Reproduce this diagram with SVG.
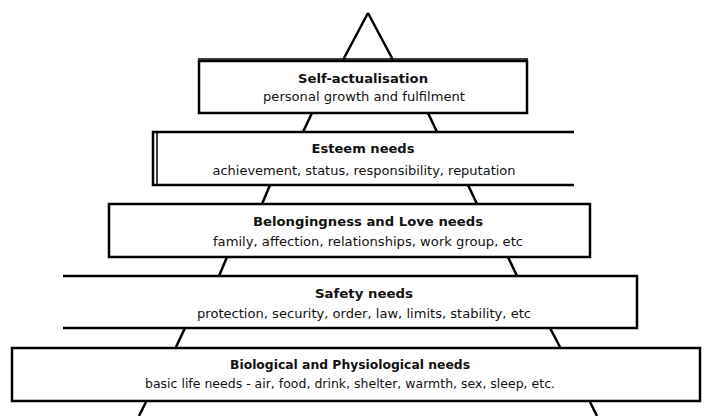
<svg xmlns="http://www.w3.org/2000/svg" width="707" height="416" viewBox="0 0 707 416">
<style>
.edge{stroke:#000;stroke-width:2.5;fill:none;stroke-linecap:butt}
.thin{stroke:#000;stroke-width:1.5;fill:none}
.box{fill:#fff;stroke:#000;stroke-width:2.5}
.t{font-family:"DejaVu Sans","Liberation Sans",sans-serif;font-weight:bold;font-size:12px;fill:#111;text-anchor:middle}
.s{font-family:"DejaVu Sans","Liberation Sans",sans-serif;font-size:11.5px;fill:#111;text-anchor:middle}
</style>
<rect width="707" height="416" fill="#fff"/>
<g id="connectors">
<path class="edge" d="M368,13 L343,60 M368,13 L393,60"/>
<path class="edge" d="M312,113 L303,132 M428,113 L437,132"/>
<path class="edge" d="M270,185 L262,204 M468,185 L477,204"/>
<path class="edge" d="M227,257 L219,276 M508,257 L517,276"/>
<path class="edge" d="M185,328 L176,347 M550,328 L560,347"/>
<path class="edge" d="M146,402 L139,416 M590,402 L597,416"/>
</g>
<g id="self-actualisation">
<rect class="box" x="199" y="61" width="328" height="52"/>
<line class="thin" x1="198" y1="59" x2="528" y2="59"/>
<text class="t" x="363" y="83" textLength="130" lengthAdjust="spacingAndGlyphs">Self-actualisation</text>
<text class="s" x="364" y="101" textLength="202" lengthAdjust="spacingAndGlyphs">personal growth and fulfilment</text>
</g>
<g id="esteem">
<rect x="153" y="132" width="422" height="53" fill="#fff"/>
<path class="edge" d="M574,132 L153,132 L153,185 L574,185"/>
<line class="thin" x1="157" y1="133" x2="157" y2="184"/>
<text class="t" x="363" y="153" textLength="103" lengthAdjust="spacingAndGlyphs">Esteem needs</text>
<text class="s" x="364" y="175" textLength="303" lengthAdjust="spacingAndGlyphs">achievement, status, responsibility, reputation</text>
</g>
<g id="belongingness">
<rect class="box" x="109" y="204" width="481" height="53"/>
<text class="t" x="368" y="226" textLength="230" lengthAdjust="spacingAndGlyphs">Belongingness and Love needs</text>
<text class="s" x="368" y="246" textLength="310" lengthAdjust="spacingAndGlyphs">family, affection, relationships, work group, etc</text>
</g>
<g id="safety">
<rect x="63" y="276" width="574" height="52" fill="#fff"/>
<path class="edge" d="M63,276 L637,276 L637,328 L63,328"/>
<text class="t" x="364" y="298" textLength="98" lengthAdjust="spacingAndGlyphs">Safety needs</text>
<text class="s" x="364" y="318" textLength="334" lengthAdjust="spacingAndGlyphs">protection, security, order, law, limits, stability, etc</text>
</g>
<g id="biological">
<rect class="box" x="12" y="348" width="688" height="53"/>
<text class="t" x="350" y="369" textLength="240" lengthAdjust="spacingAndGlyphs">Biological and Physiological needs</text>
<text class="s" x="350" y="388" textLength="410" lengthAdjust="spacingAndGlyphs">basic life needs - air, food, drink, shelter, warmth, sex, sleep, etc.</text>
</g>
</svg>
